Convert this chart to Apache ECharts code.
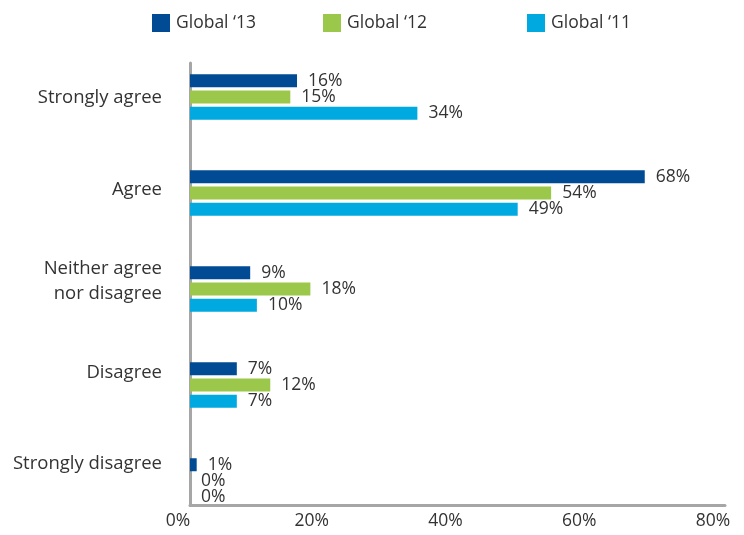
<!DOCTYPE html>
<html>
<head>
<meta charset="utf-8">
<script src="https://cdn.jsdelivr.net/npm/echarts@6/dist/echarts.min.js"></script>
<style>
  html, body { margin: 0; padding: 0; background: #fff; }
  #chart { width: 744px; height: 535px; }
</style>
</head>
<body>
<div id="chart"></div>
<script>
// Survey responses by year (percent of respondents)
const categories = ['Strongly agree', 'Agree', 'Neither agree\nnor disagree', 'Disagree', 'Strongly disagree'];
const seriesNames = ['Global \u201813', 'Global \u201812', 'Global \u201811'];
const global13 = [16, 68, 9, 7, 1];
const global12 = [15, 54, 18, 12, 0];
const global11 = [34, 49, 10, 7, 0];
const xTicks = [0, 20, 40, 60, 80];
const colors = ['#004b93', '#9bc84a', '#00a9e0'];

const FONT = '"Open Sans", "Noto Sans", sans-serif';
const FS = 17.5;
const TEXT = '#333333';
const AXIS = '#a6a6a6';

const chart = echarts.init(document.getElementById('chart'));

const valuesBySeries = [global13, global12, global11];
const legendLefts = [152, 323, 527];

const option = {
  animation: false,
  textStyle: { fontFamily: FONT },
  legend: seriesNames.map((n, i) => ({
    data: [n],
    left: legendLefts[i],
    top: 14,
    padding: 0,
    icon: 'rect',
    itemWidth: 18,
    itemHeight: 18,
    itemGap: 0,
    textStyle: { fontFamily: FONT, fontSize: FS, color: TEXT, padding: [0, 0, 0, 1] },
    selectedMode: false
  })),
  grid: [
    // bars
    { left: 190, right: 19, top: 49, height: 480, containLabel: false },
    // category labels
    { left: 190, right: 19, top: 52, height: 458, containLabel: false },
    // axis frame and percentage ticks
    { left: 190, right: 19, top: 63, height: 442, containLabel: false }
  ],
  xAxis: [
    { gridIndex: 0, type: 'value', min: xTicks[0], max: xTicks[xTicks.length - 1], show: false },
    { gridIndex: 1, type: 'value', min: xTicks[0], max: xTicks[xTicks.length - 1], show: false },
    {
      gridIndex: 2, type: 'value', min: xTicks[0], max: xTicks[xTicks.length - 1], interval: 20,
      axisLine: { show: true, lineStyle: { color: AXIS, width: 3 } },
      axisTick: { show: false },
      splitLine: { show: false },
      axisLabel: {
        formatter: '{value}%', fontFamily: FONT, fontSize: FS, color: TEXT,
        margin: 7, padding: [0, 24, 0, 0]
      }
    }
  ],
  yAxis: [
    { gridIndex: 0, type: 'category', inverse: true, data: categories, show: false },
    {
      gridIndex: 1, type: 'category', inverse: true, data: categories,
      axisLine: { show: false }, axisTick: { show: false },
      axisLabel: {
        margin: 28, fontFamily: FONT, fontSize: 18.5, color: TEXT,
        lineHeight: 25, align: 'right'
      }
    },
    {
      gridIndex: 2, type: 'value', min: 0, max: 1,
      axisLine: { show: true, onZero: false, lineStyle: { color: AXIS, width: 3 } },
      axisTick: { show: false }, axisLabel: { show: false }, splitLine: { show: false }
    }
  ],
  series: seriesNames.map((n, i) => ({
    name: n,
    type: 'bar',
    xAxisIndex: 0,
    yAxisIndex: 0,
    data: valuesBySeries[i],
    barWidth: 13,
    barGap: '25%',
    itemStyle: { color: colors[i] },
    label: {
      show: true, position: 'right', distance: 11,
      formatter: '{c}%', fontFamily: FONT, fontSize: FS, color: TEXT
    }
  }))
};

chart.setOption(option);
</script>
</body>
</html>
